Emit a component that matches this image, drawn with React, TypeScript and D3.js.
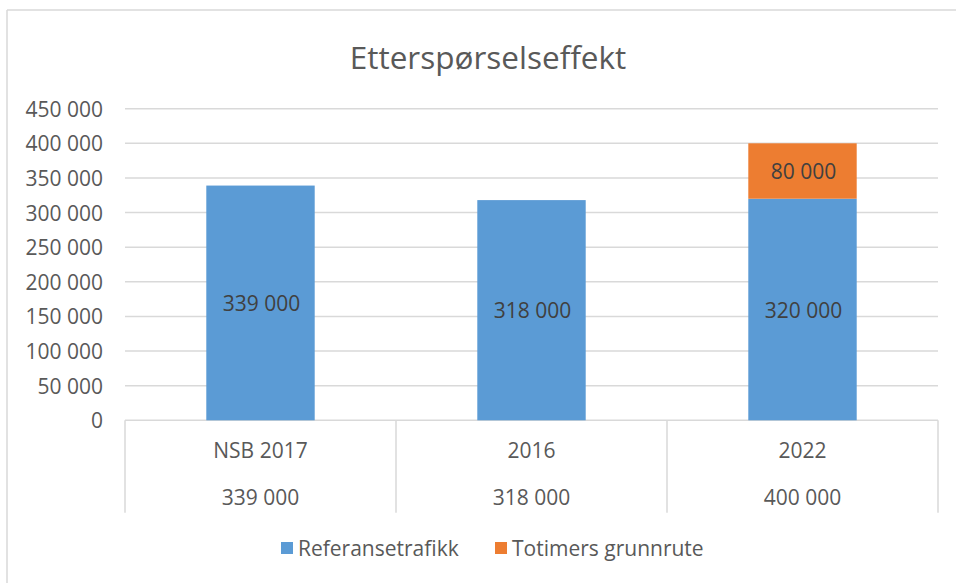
import React from "react";
import * as d3 from "d3";

const title = "Etterspørselseffekt";
const categories = ["NSB 2017", "2016", "2022"];
const seriesNames = ["Referansetrafikk", "Totimers grunnrute"];
const referanse = [339000, 318000, 320000];
const totimers = [0, 0, 80000];
const yTicks = [0, 50000, 100000, 150000, 200000, 250000, 300000, 350000, 400000, 450000];
const colors = ["#5B9BD5", "#ED7D31"];

const W = 956;
const H = 583;
const FONT = "'Open Sans', sans-serif";

const fmt = (v: number) => d3.format(",")(v).replace(/,/g, " ");

export default function App() {
  const rows = categories.map((c, i) => ({ cat: c, s0: referanse[i], s1: totimers[i] }));
  const stacked = d3.stack<any>().keys(["s0", "s1"])(rows);
  const totals = rows.map((r) => r.s0 + r.s1);

  const y = d3.scaleLinear().domain([0, 450000]).range([420.3, 108.7]);
  const x = d3.scaleBand<string>().domain(categories).range([125, 938]).paddingInner(0.6).paddingOuter(0.3);
  const grid = d3.scaleBand<string>().domain(categories).range([125, 938]).padding(0);

  const tableBottom = 512.7;
  const legendY = 548;

  return (
    <svg width={W} height={H} style={{ position: "absolute", left: 0, top: 0, background: "#fff" }} fontFamily={FONT}>
      <rect x={0} y={0} width={W} height={H} fill="#fff" />
      {/* outer frame (top and left visible) */}
      <line x1={7} x2={W} y1={10} y2={10} stroke="#d9d9d9" strokeWidth={1.5} />
      <line x1={7} x2={7} y1={10} y2={H} stroke="#d9d9d9" strokeWidth={1.5} />

      <text x={488} y={56} textAnchor="middle" dominantBaseline="central" fontSize={31.5} fill="#595959">
        {title}
      </text>

      {/* gridlines and tick labels */}
      {yTicks.map((t) => (
        <g key={t}>
          <line x1={125} x2={938} y1={y(t)} y2={y(t)} stroke="#d9d9d9" strokeWidth={1.5} />
          <text x={103} y={y(t)} textAnchor="end" dominantBaseline="central" fontSize={21} fill="#595959">
            {t === 0 ? "0" : fmt(t)}
          </text>
        </g>
      ))}

      {/* table grid */}
      {d3.range(categories.length + 1).map((i) => {
        const gx = 125 + i * grid.step();
        return <line key={i} x1={gx} x2={gx} y1={y(0)} y2={tableBottom} stroke="#d9d9d9" strokeWidth={1.5} />;
      })}

      {/* bars */}
      {stacked.map((layer, li) => (
        <g key={li} fill={colors[li]}>
          {layer.map((d, i) => {
            const h = y(d[0]) - y(d[1]);
            if (h <= 0) return null;
            return <rect key={i} x={x(categories[i])} y={y(d[1])} width={x.bandwidth()} height={h} />;
          })}
        </g>
      ))}

      {/* data labels */}
      {stacked.map((layer, li) => (
        <g key={"l" + li}>
          {layer.map((d, i) => {
            const v = d[1] - d[0];
            if (v <= 0) return null;
            return (
              <text
                key={i}
                x={(x(categories[i]) as number) + x.bandwidth() / 2 + 1}
                y={(y(d[0]) + y(d[1])) / 2}
                textAnchor="middle"
                dominantBaseline="central"
                fontSize={21}
                fill="#404040"
              >
                {fmt(v)}
              </text>
            );
          })}
        </g>
      ))}

      {/* category / total table */}
      {categories.map((c, i) => {
        const cx = (grid(c) as number) + grid.bandwidth() / 2;
        return (
          <g key={c}>
            <text x={cx} y={450} textAnchor="middle" dominantBaseline="central" fontSize={21} fill="#595959">
              {c}
            </text>
            <text x={cx} y={497} textAnchor="middle" dominantBaseline="central" fontSize={21} fill="#595959">
              {fmt(totals[i])}
            </text>
          </g>
        );
      })}

      {/* legend */}
      {seriesNames.map((s, i) => {
        const lx = [281, 495][i];
        return (
          <g key={s}>
            <rect x={lx} y={legendY - 6} width={12} height={12} fill={colors[i]} />
            <text x={lx + 17} y={legendY} dominantBaseline="central" fontSize={21} fill="#595959">
              {s}
            </text>
          </g>
        );
      })}
    </svg>
  );
}
